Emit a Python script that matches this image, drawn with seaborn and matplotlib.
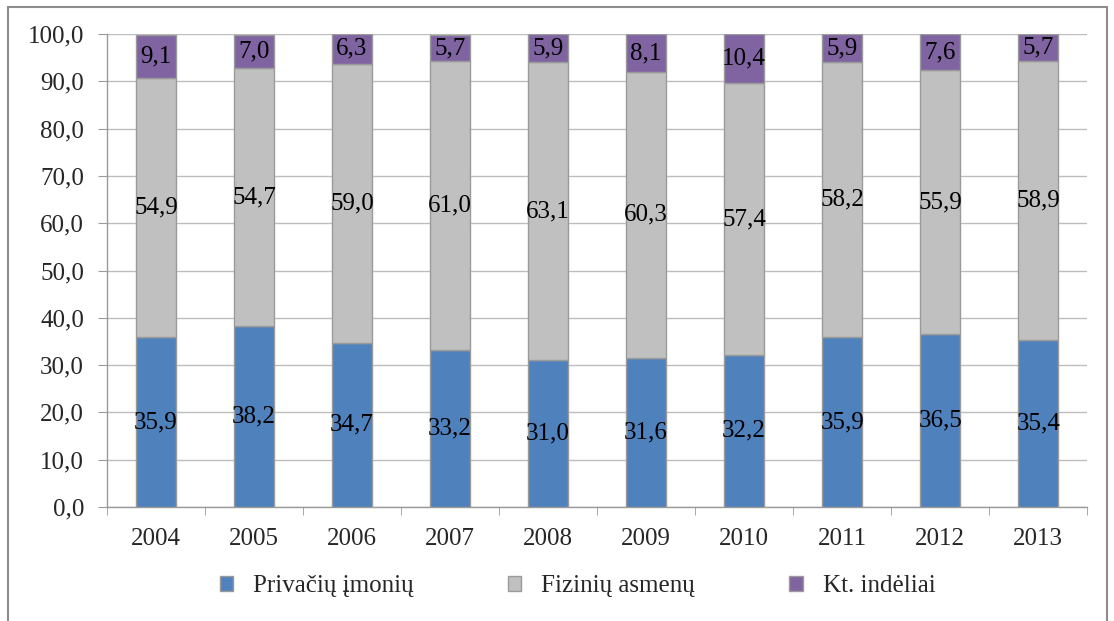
import numpy as np
import seaborn as sns
import matplotlib.pyplot as plt
from matplotlib.ticker import FuncFormatter, FixedLocator
from matplotlib.patches import Rectangle

years = ["2004", "2005", "2006", "2007", "2008", "2009", "2010", "2011", "2012", "2013"]
privaciu = [35.9, 38.2, 34.7, 33.2, 31.0, 31.6, 32.2, 35.9, 36.5, 35.4]
fiziniu = [54.9, 54.7, 59.0, 61.0, 63.1, 60.3, 57.4, 58.2, 55.9, 58.9]
kt = [9.1, 7.0, 6.3, 5.7, 5.9, 8.1, 10.4, 5.9, 7.6, 5.7]
series_names = ["Privačių įmonių", "Fizinių asmenų", "Kt. indėliai"]
colors = ["#4F81BD", "#C0C0C0", "#8064A2"]

sns.set_style("white")
plt.rcParams['font.family'] = ['Liberation Serif', 'DejaVu Serif']

fig = plt.figure(figsize=(11.14, 6.21), dpi=100)
ax = fig.add_axes([0.096, 0.1836, 0.88, 0.7616])

def fmt(v):
    return f"{v:.1f}".replace(".", ",")

bottom = np.zeros(len(years))
for vals, name, col in zip([privaciu, fiziniu, kt], series_names, colors):
    sns.barplot(x=years, y=vals, bottom=bottom, color=col, label=name, saturation=1,
                width=0.41, edgecolor="#9A9A9A", linewidth=1.0, ax=ax, zorder=3)
    cont = ax.containers[-1]
    ax.bar_label(cont, labels=[fmt(v) for v in vals], label_type="center",
                 fontsize=18, color="black")
    bottom = bottom + np.array(vals)

ax.set_ylim(0, 100)
ax.set_xlim(-0.5, len(years) - 0.5)
ax.set_yticks(np.arange(0, 101, 10))
ax.yaxis.set_major_formatter(FuncFormatter(lambda v, p: fmt(v)))
ax.yaxis.grid(True, color="#BDBDBD", linewidth=1.0, zorder=0)
ax.set_axisbelow(True)

ax.xaxis.set_minor_locator(FixedLocator(np.arange(-0.5, len(years), 1.0)))
ax.tick_params(axis="x", which="major", length=0, labelsize=18, pad=15)
ax.tick_params(axis="x", which="minor", length=6, color="#9A9A9A", direction="out", bottom=True)
ax.tick_params(axis="y", length=6.5, color="#9A9A9A", labelsize=18, left=True,
               direction="out", pad=10)

for s in ["top", "right"]:
    ax.spines[s].set_visible(False)
for s in ["left", "bottom"]:
    ax.spines[s].set_color("#9A9A9A")
    ax.spines[s].set_linewidth(1.0)

ax.set_xlabel("")
ax.set_ylabel("")

handles, labels = ax.get_legend_handles_labels()
ax.legend(handles, labels, loc="center left", bbox_to_anchor=(197 / 1114, 0.056),
          bbox_transform=fig.transFigure,
          ncol=3, frameon=False, fontsize=18, handlelength=0.55, handleheight=0.55,
          columnspacing=3.75, handletextpad=0.8)

fig.patches.append(Rectangle((8 / 1114, -0.05), 1099 / 1114, 1.05 - 7 / 621,
                             transform=fig.transFigure, fill=False,
                             edgecolor="#8C8C8C", linewidth=1.5))

fig.savefig("out.png", dpi=100)
